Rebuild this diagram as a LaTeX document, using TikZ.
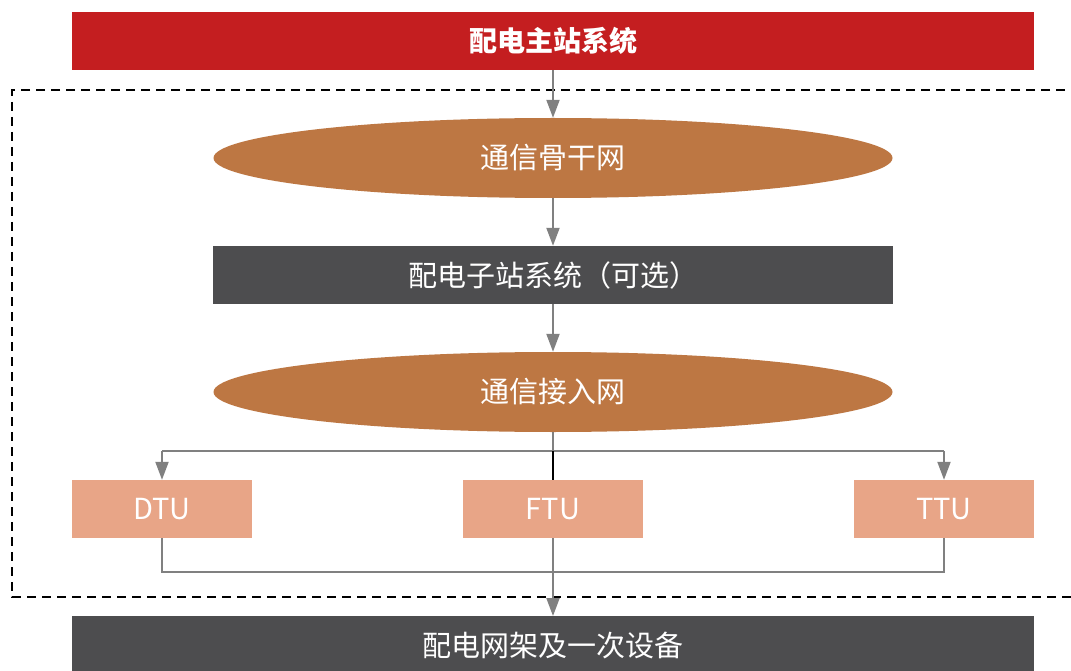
\documentclass[tikz,border=0pt]{standalone}
\usepackage{fontspec}
\setmainfont{Noto Sans CJK SC}
\usetikzlibrary{shapes.geometric,arrows.meta}
\definecolor{cred}{HTML}{C41E20}
\definecolor{cbrown}{HTML}{BD7743}
\definecolor{cdark}{HTML}{4D4D4F}
\definecolor{csalmon}{HTML}{E8A587}
\definecolor{cgray}{HTML}{808080}
\begin{document}
\begin{tikzpicture}[x=1pt,y=-1pt,
  boxst/.style={rectangle,inner sep=0pt,text=white,font=\fontsize{29}{32}\selectfont},
  ellst/.style={ellipse,inner sep=0pt,fill=cbrown,text=white,minimum width=679pt,minimum height=80pt,font=\fontsize{29}{32}\selectfont},
  conn/.style={draw=cgray,line width=2pt},
  arr/.style={conn,-{Triangle[length=18pt,width=13pt]}}]
\useasboundingbox (0,0) rectangle (1071,671);
\fill[white] (0,0) rectangle (1071,671);
% dashed frame
\draw[dashed,line width=1.3pt,dash pattern=on 9pt off 6pt] (1080,90) -- (12,90) -- (12,597) -- (1080,597);
\node[boxst,fill=cred,minimum width=962pt,minimum height=58pt,font=\fontsize{28}{32}\selectfont\bfseries] (top) at (553,41) {配电主站系统};
\node[ellst] (e1) at (553,158) {通信骨干网};
\node[boxst,fill=cdark,minimum width=680pt,minimum height=58pt] (sub) at (553,275) {配电子站系统（可选）};
\node[ellst] (e2) at (553,392) {通信接入网};
\node[boxst,fill=csalmon,minimum width=180pt,minimum height=58pt] (dtu) at (162,509) {DTU};
\node[boxst,fill=csalmon,minimum width=180pt,minimum height=58pt] (ftu) at (553,509) {FTU};
\node[boxst,fill=csalmon,minimum width=180pt,minimum height=58pt] (ttu) at (944,509) {TTU};
\node[boxst,fill=cdark,minimum width=962pt,minimum height=58pt,anchor=north] (bot) at (553,616) {配电网架及一次设备};
\coordinate (hl) at (162,451);
\coordinate (hr) at (944,451);
\coordinate (hm) at (553,451);
\coordinate (bl) at (162,572);
\coordinate (br) at (944,572);
\draw[arr] (top.south) -- (e1.north);
\draw[arr] (e1.south) -- (sub.north);
\draw[arr] (sub.south) -- (e2.north);
\draw[conn] (e2.south) -- (hm);
\draw[conn] (hl) -- (hr);
\draw[arr] (hl) -- (dtu.north);
\draw[arr] (hr) -- (ttu.north);
\draw[black,line width=2pt] (hm) -- (ftu.north);
\draw[conn] (dtu.south) -- (bl) -- (br) -- (ttu.south);
\draw[arr] (ftu.south) -- (bot.north);
\end{tikzpicture}
\end{document}
